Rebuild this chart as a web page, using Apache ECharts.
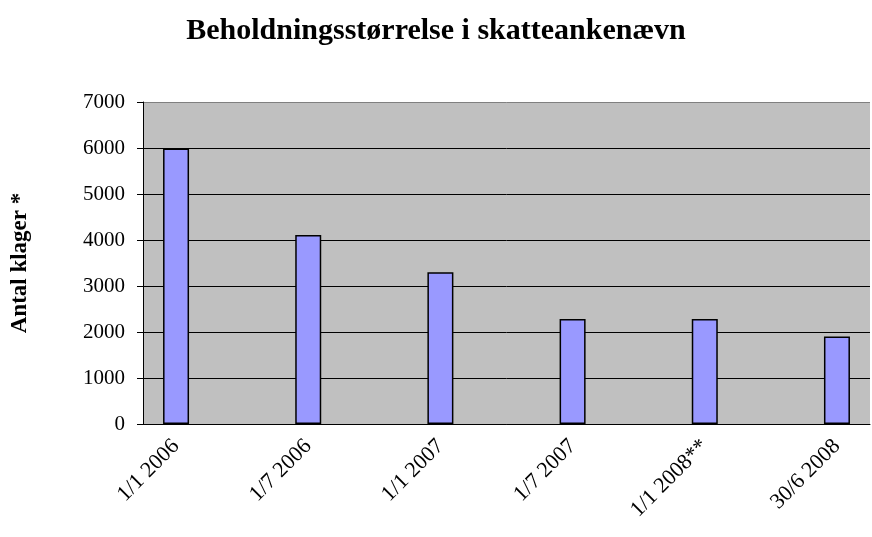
<!DOCTYPE html>
<html>
<head>
<meta charset="utf-8">
<script src="https://cdn.jsdelivr.net/npm/echarts@6/dist/echarts.min.js"></script>
<style>
  html, body { margin: 0; padding: 0; background: #fff; }
  #chart { width: 872px; height: 537px; }
</style>
</head>
<body>
<div id="chart"></div>
<script>
// date axis: one slot per quarter, only every other one has a bar
const categories = ['1/1 2006', '', '1/7 2006', '', '1/1 2007', '', '1/7 2007', '', '1/1 2008**', '', '30/6 2008']
const values = [5990, null, 4110, null, 3300, null, 2280, null, 2280, null, 1900]
const yTicks = { min: 0, max: 7000, interval: 1000 }

const serif = 'Liberation Serif, Times New Roman, serif'

const chart = echarts.init(document.getElementById('chart'))
chart.setOption({
  animation: false,
  title: {
    text: 'Beholdningsstørrelse i skatteankenævn',
    left: 'center',
    top: 11,
    textStyle: { fontFamily: serif, fontWeight: 'bold', fontSize: 30, color: '#000' }
  },
  grid: {
    left: 143,
    right: 2,
    top: 102,
    bottom: 113,
    show: true,
    backgroundColor: '#C0C0C0',
    borderWidth: 0
  },
  xAxis: {
    type: 'category',
    data: categories,
    axisLine: { lineStyle: { color: '#000', width: 1 } },
    axisTick: { interval: 0, length: 7, lineStyle: { color: '#000' } },
    axisLabel: {
      interval: 0,
      rotate: 45,
      margin: 19,
      fontFamily: serif,
      fontSize: 22,
      color: '#000'
    }
  },
  yAxis: {
    type: 'value',
    min: yTicks.min,
    max: yTicks.max,
    interval: yTicks.interval,
    name: 'Antal klager *',
    nameLocation: 'middle',
    nameGap: 111,
    nameTextStyle: { fontFamily: serif, fontWeight: 'bold', fontSize: 23, color: '#000' },
    axisLine: { show: true, lineStyle: { color: '#000', width: 1 } },
    axisTick: { show: true, length: 6, lineStyle: { color: '#000' } },
    axisLabel: {
      fontFamily: serif,
      fontSize: 21,
      color: '#000',
      margin: 18,
      formatter: v => String(v)
    },
    splitLine: {
      lineStyle: {
        color: ['#000', '#000', '#000', '#000', '#000', '#000', '#000', '#808080'],
        width: 1
      }
    }
  },
  series: [{
    type: 'bar',
    data: values,
    barWidth: 26,
    itemStyle: { color: '#9999FF', borderColor: '#000', borderWidth: 1.5 }
  }]
})
</script>
</body>
</html>
